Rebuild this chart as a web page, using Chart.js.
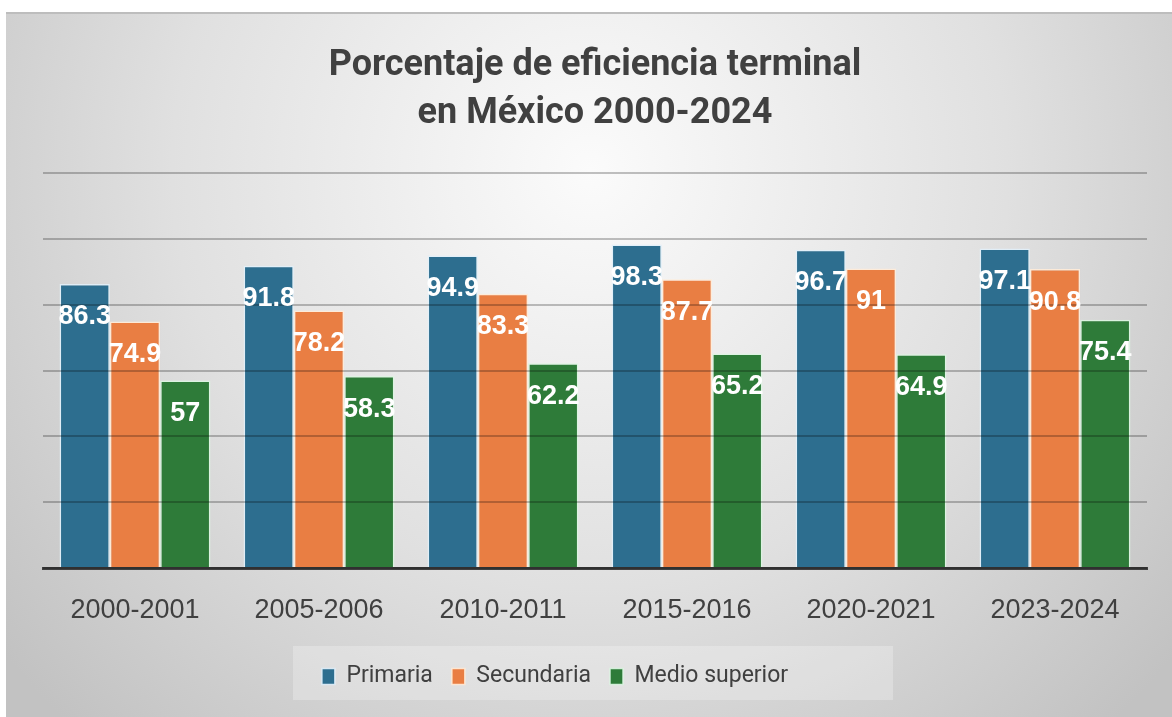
<!DOCTYPE html>
<html>
<head>
<meta charset="utf-8">
<script src="https://cdn.jsdelivr.net/npm/chart.js@4.4.1/dist/chart.umd.min.js"></script>
<style>
  html, body { margin: 0; padding: 0; background: #fff; }
  #wrap { width: 1172px; height: 717px; }
</style>
</head>
<body>
<div id="wrap"><canvas id="eficienciaChart" width="1172" height="717"></canvas></div>
<script>
const ciclos = ['2000-2001', '2005-2006', '2010-2011', '2015-2016', '2020-2021', '2023-2024'];
const primaria = [86.3, 91.8, 94.9, 98.3, 96.7, 97.1];
const secundaria = [74.9, 78.2, 83.3, 87.7, 91, 90.8];
const medioSuperior = [57, 58.3, 62.2, 65.2, 64.9, 75.4];

const textColor = '#404040';

// grey panel behind everything + the pale box behind the legend
const panelBg = {
    id: 'panelBg',
    beforeDraw(chart) {
        const ctx = chart.ctx;
        const w = chart.width, h = chart.height;
        ctx.save();
        ctx.fillStyle = '#ffffff';
        ctx.fillRect(0, 0, w, h);
        const g = ctx.createRadialGradient(590, 170, 0, 590, 170, 760);
        g.addColorStop(0, '#fbfbfb');
        g.addColorStop(0.55, '#e0e0e0');
        g.addColorStop(1, '#c2c2c2');
        ctx.fillStyle = g;
        ctx.fillRect(6, 12, w - 6, h - 12);
        ctx.fillStyle = '#bdbdbd';
        ctx.fillRect(6, 12, w - 6, 2);

        const lg = chart.legend;
        const cx = (chart.chartArea.left + chart.chartArea.right) / 2 - 2;
        ctx.fillStyle = 'rgba(255,255,255,0.25)';
        ctx.fillRect(cx - 300, lg.top, 600, 54);
        ctx.restore();
    },
    afterLayout(chart) {
        // legend entries sit a little left of centre
        chart.legend.left -= 40;
        chart.legend.right -= 40;
    }
};

// white values just under the top of each bar
const barValues = {
    id: 'barValues',
    afterDraw(chart) {
        const ctx = chart.ctx;
        ctx.save();
        ctx.font = 'bold 27px "Liberation Sans", Arial, sans-serif';
        ctx.fillStyle = '#ffffff';
        ctx.textAlign = 'center';
        ctx.textBaseline = 'middle';
        chart.data.datasets.forEach((ds, i) => {
            chart.getDatasetMeta(i).data.forEach((bar, j) => {
                ctx.fillText(String(ds.data[j]), bar.x, bar.y + 33);
            });
        });
        ctx.restore();
    }
};

const ctx = document.getElementById('eficienciaChart').getContext('2d');
const chart = new Chart(ctx, {
    type: 'bar',
    data: {
        labels: ciclos,
        datasets: [
            { label: 'Primaria', data: primaria, backgroundColor: '#2d6e8f', borderColor: 'rgba(225,240,250,0.9)' },
            { label: 'Secundaria', data: secundaria, backgroundColor: '#e97e43', borderColor: 'rgba(255,235,215,0.9)' },
            { label: 'Medio superior', data: medioSuperior, backgroundColor: '#2e7b39', borderColor: 'rgba(220,245,225,0.9)' }
        ]
    },
    options: {
        responsive: false,
        animation: false,
        layout: { padding: { left: 43, right: 25, top: 20, bottom: 19 } },
        datasets: {
            bar: {
                borderWidth: 1.5,
                barPercentage: 1,
                categoryPercentage: 0.82
            }
        },
        plugins: {
            title: {
                display: true,
                text: ['Porcentaje de eficiencia terminal', 'en México 2000-2024'],
                color: textColor,
                font: { family: 'Roboto', size: 36, weight: 'bold', lineHeight: '48px' },
                padding: { top: 22, bottom: 35 }
            },
            legend: {
                position: 'bottom',
                labels: {
                    color: textColor,
                    font: { family: 'Roboto', size: 23 },
                    boxWidth: 13,
                    boxHeight: 16,
                    padding: 19
                }
            },
            tooltip: { enabled: false }
        },
        scales: {
            x: {
                grid: { display: false, drawTicks: false },
                border: { display: true, color: '#404040', width: 3 },
                ticks: {
                    color: textColor,
                    padding: 26,
                    font: { family: '"Liberation Sans", Arial, sans-serif', size: 27 }
                },
                afterFit(scale) { scale.height = 78; }
            },
            y: {
                min: 0,
                max: 120,
                ticks: { display: false, stepSize: 20 },
                border: { display: false },
                grid: { color: 'rgba(0,0,0,0.24)', lineWidth: 2, drawTicks: false, z: 1 },
                afterFit(scale) { scale.width = 0; }
            }
        }
    },
    plugins: [panelBg, barValues]
});
</script>
</body>
</html>
